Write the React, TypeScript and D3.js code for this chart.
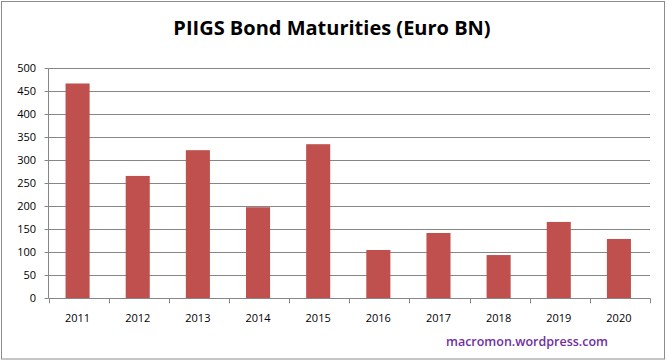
import * as d3 from "d3";
import { useEffect, useRef } from "react";

const years = ["2011", "2012", "2013", "2014", "2015", "2016", "2017", "2018", "2019", "2020"];
const maturities = [467, 266, 322, 198, 335, 105, 142, 94, 166, 129];
const yTicks = [0, 50, 100, 150, 200, 250, 300, 350, 400, 450, 500];

const W = 667;
const H = 362;
const FONT = "'Open Sans', 'DejaVu Sans', sans-serif";

const App = () => {
  const svgRef = useRef(null);

  useEffect(() => {
    document.body.style.margin = "0";
    const svg = d3.select(svgRef.current);
    svg.selectAll("*").remove();

    const left = 48.5;
    const right = 650;
    const top = 68.3;
    const bottom = 298.3;

    const x = d3.scaleBand().domain(years).range([left - 1, right - 1]).paddingInner(0.6).paddingOuter(0.3);
    const y = d3.scaleLinear().domain([0, 500]).range([bottom, top]);

    svg.append("rect")
      .attr("x", 1.5).attr("y", 1.5)
      .attr("width", 663).attr("height", 357.5)
      .attr("fill", "white").attr("stroke", "#8c8c8c").attr("stroke-width", 1);

    svg.append("text")
      .attr("x", 332).attr("y", 35)
      .attr("text-anchor", "middle")
      .attr("font-family", FONT).attr("font-weight", "bold").attr("font-size", 20)
      .attr("fill", "#000")
      .text("PIIGS Bond Maturities (Euro BN)");

    // gridlines
    svg.append("g").selectAll("line").data(yTicks.filter(t => t > 0)).enter().append("line")
      .attr("x1", left).attr("x2", right)
      .attr("y1", d => Math.round(y(d)) + 0.5).attr("y2", d => Math.round(y(d)) + 0.5)
      .attr("stroke", "#868686").attr("stroke-width", 1);

    // y labels and ticks
    const yg = svg.append("g");
    yg.selectAll("text").data(yTicks).enter().append("text")
      .attr("x", 36).attr("y", d => y(d) + 4)
      .attr("text-anchor", "end")
      .attr("font-family", FONT).attr("font-size", 11).attr("fill", "#000")
      .text(d => d);
    yg.selectAll("line").data(yTicks).enter().append("line")
      .attr("x1", left - 4).attr("x2", left)
      .attr("y1", d => Math.round(y(d)) + 0.5).attr("y2", d => Math.round(y(d)) + 0.5)
      .attr("stroke", "#868686");
    svg.append("line")
      .attr("x1", left).attr("x2", left).attr("y1", y(500)).attr("y2", y(0))
      .attr("stroke", "#868686");

    // bars
    svg.append("g").selectAll("rect").data(maturities).enter().append("rect")
      .attr("x", (d, i) => x(years[i]))
      .attr("y", d => y(d))
      .attr("width", x.bandwidth())
      .attr("height", d => y(0) - y(d))
      .attr("fill", "#C0504D");

    // x axis
    const step = (right - left) / years.length;
    svg.append("line")
      .attr("x1", left).attr("x2", right)
      .attr("y1", Math.round(y(0)) + 0.5).attr("y2", Math.round(y(0)) + 0.5)
      .attr("stroke", "#868686");
    svg.append("g").selectAll("line").data(d3.range(years.length + 1)).enter().append("line")
      .attr("x1", i => Math.round(left + i * step) + 0.5).attr("x2", i => Math.round(left + i * step) + 0.5)
      .attr("y1", y(0)).attr("y2", y(0) + 5)
      .attr("stroke", "#868686");
    svg.append("g").selectAll("text").data(years).enter().append("text")
      .attr("x", d => x(d) + x.bandwidth() / 2)
      .attr("y", 322)
      .attr("text-anchor", "middle")
      .attr("font-family", FONT).attr("font-size", 11).attr("fill", "#000")
      .text(d => d);

    svg.append("text")
      .attr("x", 527).attr("y", 346)
      .attr("text-anchor", "middle")
      .attr("font-family", FONT).attr("font-weight", "600").attr("font-size", 12.5)
      .attr("fill", "#7030A0")
      .text("macromon.wordpress.com");
  }, []);

  return <svg ref={svgRef} width={W} height={H} style={{ display: "block" }} />;
};

export default App;
